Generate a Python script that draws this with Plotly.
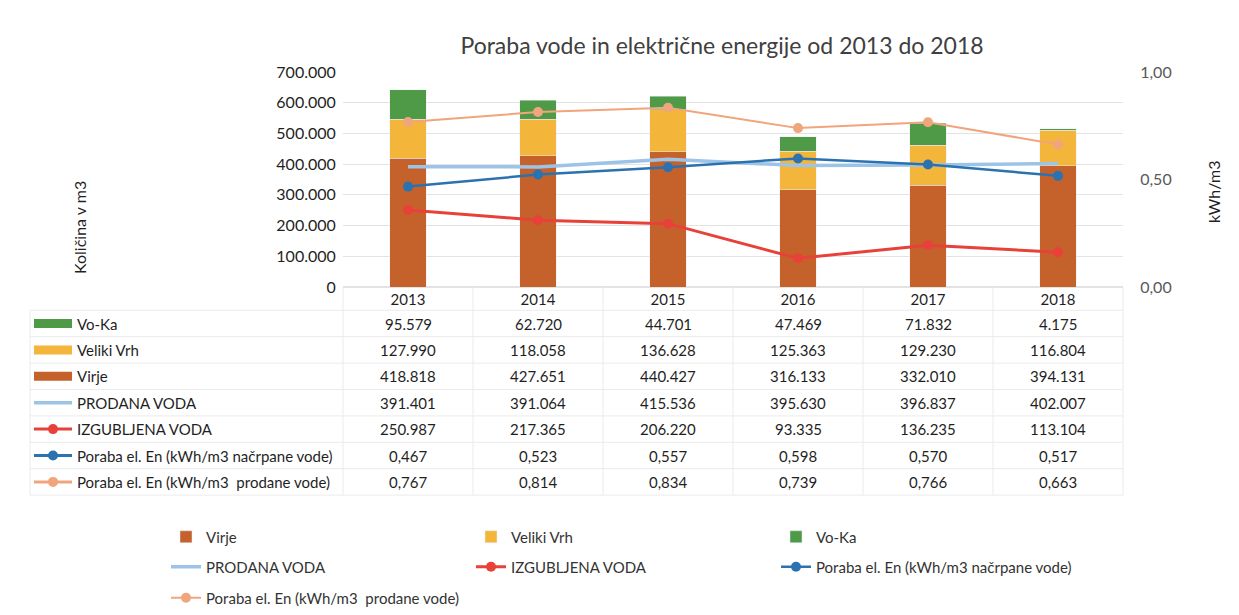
import plotly.graph_objects as go

W, H = 1239, 615

years = ["2013", "2014", "2015", "2016", "2017", "2018"]
vo_ka = [95579, 62720, 44701, 47469, 71832, 4175]
veliki_vrh = [127990, 118058, 136628, 125363, 129230, 116804]
virje = [418818, 427651, 440427, 316133, 332010, 394131]
prodana_voda = [391401, 391064, 415536, 395630, 396837, 402007]
izgubljena_voda = [250987, 217365, 206220, 93335, 136235, 113104]
poraba_nacrpane = [0.467, 0.523, 0.557, 0.598, 0.570, 0.517]
poraba_prodane = [0.767, 0.814, 0.834, 0.739, 0.766, 0.663]

names = {
    "virje": "Virje",
    "vv": "Veliki Vrh",
    "voka": "Vo-Ka",
    "prod": "PRODANA VODA",
    "izg": "IZGUBLJENA VODA",
    "nacr": "Poraba el. En (kWh/m3 načrpane vode)",
    "prodane": "Poraba el. En (kWh/m3  prodane vode)",
}
colors = {
    "virje": "#c5622c",
    "vv": "#f4b63a",
    "voka": "#4e9a47",
    "prod": "#9dc3e6",
    "izg": "#e8413a",
    "nacr": "#2a72b0",
    "prodane": "#f0a57c",
}

FONT = "Lato, 'Open Sans', sans-serif"
TXT = "#1f1f1f"


def px(x):
    return x / W


def py(y):
    return 1 - y / H


def fmt_int(v):
    return f"{v:,}".replace(",", ".")


def fmt_dec(v):
    return f"{v:.3f}".replace(".", ",")


fig = go.Figure()
fig.add_trace(go.Bar(x=years, y=virje, name=names["virje"], marker_color=colors["virje"], legend="legend"))
fig.add_trace(go.Bar(x=years, y=veliki_vrh, name=names["vv"], marker_color=colors["vv"], legend="legend"))
fig.add_trace(go.Bar(x=years, y=vo_ka, name=names["voka"], marker_color=colors["voka"], legend="legend"))
fig.add_trace(go.Scatter(x=years, y=prodana_voda, name=names["prod"], mode="lines",
                         line=dict(color=colors["prod"], width=3.5), legend="legend2"))
fig.add_trace(go.Scatter(x=years, y=izgubljena_voda, name=names["izg"], mode="lines+markers",
                         line=dict(color=colors["izg"], width=3), marker=dict(size=10, color=colors["izg"]),
                         legend="legend2"))
fig.add_trace(go.Scatter(x=years, y=poraba_nacrpane, name=names["nacr"], mode="lines+markers", yaxis="y2",
                         line=dict(color=colors["nacr"], width=2.5), marker=dict(size=10, color=colors["nacr"]),
                         legend="legend2"))
fig.add_trace(go.Scatter(x=years, y=poraba_prodane, name=names["prodane"], mode="lines+markers", yaxis="y2",
                         line=dict(color=colors["prodane"], width=2), marker=dict(size=10, color=colors["prodane"]),
                         legend="legend3"))

x0p, x1p = 343, 1123
ytop, ybot = 72, 287

shapes = []
annotations = []

# table rows
rows = [
    ("voka", "bar", vo_ka, fmt_int),
    ("vv", "bar", veliki_vrh, fmt_int),
    ("virje", "bar", virje, fmt_int),
    ("prod", "line", prodana_voda, fmt_int),
    ("izg", "marker", izgubljena_voda, fmt_int),
    ("nacr", "marker", poraba_nacrpane, fmt_dec),
    ("prodane", "marker", poraba_prodane, fmt_dec),
]
row_y0 = 323.5
row_h = 26.4
grid_c = "#ebebeb"
# table grid
for i in range(len(rows) + 1):
    yy = row_y0 - row_h / 2 + i * row_h
    shapes.append(dict(type="line", xref="paper", yref="paper", x0=px(30), x1=px(x1p),
                       y0=py(yy), y1=py(yy), line=dict(color=grid_c, width=1)))
ncol = len(years)
for j in range(ncol + 1):
    xx = x0p + j * (x1p - x0p) / ncol
    shapes.append(dict(type="line", xref="paper", yref="paper", x0=px(xx), x1=px(xx),
                       y0=py(ybot), y1=py(row_y0 - row_h / 2 + len(rows) * row_h),
                       line=dict(color=grid_c, width=1)))
shapes.append(dict(type="line", xref="paper", yref="paper", x0=px(30), x1=px(30),
                   y0=py(row_y0 - row_h / 2), y1=py(row_y0 - row_h / 2 + len(rows) * row_h),
                   line=dict(color=grid_c, width=1)))

for i, (key, kind, vals, f) in enumerate(rows):
    yc = row_y0 + i * row_h
    if kind == "bar":
        shapes.append(dict(type="rect", xref="paper", yref="paper", x0=px(34), x1=px(72),
                           y0=py(yc + 4.5), y1=py(yc - 4.5), fillcolor=colors[key], line=dict(width=0)))
    else:
        shapes.append(dict(type="line", xref="paper", yref="paper", x0=px(34), x1=px(72),
                           y0=py(yc), y1=py(yc), line=dict(color=colors[key], width=3.5 if kind == "line" else 3)))
        if kind == "marker":
            r = 5
            shapes.append(dict(type="circle", xref="paper", yref="paper", x0=px(53 - r), x1=px(53 + r),
                               y0=py(yc + r), y1=py(yc - r), fillcolor=colors[key], line=dict(width=0)))
    annotations.append(dict(text=names[key], xref="paper", yref="paper", x=px(75), y=py(yc),
                            xanchor="left", yanchor="middle", showarrow=False,
                            font=dict(family=FONT, size=15, color=TXT)))
    for j, v in enumerate(vals):
        annotations.append(dict(text=f(v), xref="x", yref="paper", x=j, y=py(yc),
                                xanchor="center", yanchor="middle", showarrow=False,
                                font=dict(family=FONT, size=15, color=TXT)))

annotations.append(dict(text="Količina v m3", xref="paper", yref="paper", x=px(79), y=py(228),
                        textangle=-90, showarrow=False, xanchor="center", yanchor="middle",
                        font=dict(family=FONT, size=16, color=TXT)))
annotations.append(dict(text="kWh/m3", xref="paper", yref="paper", x=px(1213), y=py(192),
                        textangle=-90, showarrow=False, xanchor="center", yanchor="middle",
                        font=dict(family=FONT, size=16, color=TXT)))

leg_common = dict(orientation="h", xanchor="left", yanchor="middle", entrywidth=260,
                  entrywidthmode="pixels", bgcolor="rgba(0,0,0,0)", itemwidth=30,
                  font=dict(family=FONT, size=15, color="#333333"), traceorder="normal")

fig.update_layout(
    width=W, height=H,
    margin=dict(l=0, r=0, t=0, b=0),
    paper_bgcolor="white", plot_bgcolor="white",
    separators=",.",
    barmode="stack", bargap=0.72,
    title=dict(text="Poraba vode in električne energije od 2013 do 2018", x=px(722), y=py(46),
               xref="paper", yref="paper", xanchor="center", yanchor="middle",
               font=dict(family=FONT, size=23, color="#404040")),
    xaxis=dict(domain=[px(x0p), px(x1p)], type="category", range=[-0.5, len(years) - 0.5],
               showgrid=False, showline=False, ticks="", ticklabelstandoff=2,
               tickfont=dict(family=FONT, size=15, color=TXT), automargin=False, fixedrange=True),
    yaxis=dict(domain=[py(ybot), py(ytop)], range=[0, 700000], dtick=100000, tickformat=",d",
               showgrid=True, gridcolor="#e3e3e3", zeroline=True, zerolinecolor="#e3e3e3",
               showline=False, ticks="outside", ticklen=3, tickcolor="rgba(0,0,0,0)",
               tickfont=dict(family=FONT, size=16, color=TXT), automargin=False),
    yaxis2=dict(overlaying="y", side="right", range=[0, 1], dtick=0.5, tickformat=".2f",
                showgrid=False, zeroline=False, showline=False, ticks="outside", ticklen=13,
                tickcolor="rgba(0,0,0,0)", tickfont=dict(family=FONT, size=16, color="#595959"),
                automargin=False),
    legend=dict(x=px(166), y=py(537), **leg_common),
    legend2=dict(x=px(166), y=py(567), **leg_common),
    legend3=dict(x=px(166), y=py(598), **leg_common),
    shapes=shapes,
    annotations=annotations,
)

fig.write_html("out.html", config={"displayModeBar": False},
               post_script="document.body.style.margin='0';")
